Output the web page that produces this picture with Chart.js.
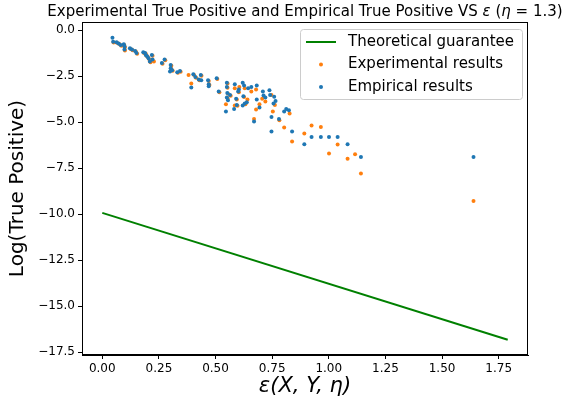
<!DOCTYPE html>
<html>
<head>
<meta charset="utf-8">
<script src="https://cdn.jsdelivr.net/npm/chart.js@4.4.0/dist/chart.umd.min.js"></script>
<style>
  html, body { margin: 0; padding: 0; background: #fff; }
  #wrap { width: 564px; height: 402px; }
</style>
</head>
<body>
<div id="wrap"><canvas id="c" width="564" height="402"></canvas></div>
<script>
const xTicks = [0, 0.25, 0.5, 0.75, 1.0, 1.25, 1.5, 1.75];
const yTicks = [0, -2.5, -5, -7.5, -10, -12.5, -15, -17.5];

const theoryX = [0, 1.79];
const theoryY = [-9.93, -16.83];

const experimental = [
  [0.050,-0.66],[0.065,-0.68],[0.075,-0.74],[0.084,-0.84],[0.097,-0.80],[0.100,-0.92],[0.100,-1.10],
  [0.125,-1.02],[0.134,-1.08],[0.148,-1.16],[0.154,-1.27],[0.184,-1.24],[0.192,-1.28],[0.195,-1.38],
  [0.201,-1.46],[0.207,-1.57],[0.213,-1.74],[0.222,-1.38],[0.228,-1.70],[0.266,-1.82],[0.278,-1.63],
  [0.305,-1.93],[0.305,-2.10],[0.311,-2.20],[0.334,-2.31],[0.346,-2.25],[0.381,-2.43],[0.393,-2.90],
  [0.405,-2.43],[0.414,-2.58],[0.429,-2.72],[0.438,-2.47],[0.470,-2.76],[0.473,-2.97],[0.508,-2.65],
  [0.517,-3.37],[0.553,-2.90],[0.553,-3.12],[0.555,-3.45],[0.553,-3.70],[0.546,-4.02],[0.567,-3.56],
  [0.585,-3.15],[0.605,-3.08],[0.603,-3.37],[0.594,-3.77],[0.585,-4.09],[0.597,-4.10],[0.629,-3.15],
  [0.626,-3.63],[0.632,-4.02],[0.641,-3.77],[0.658,-3.33],[0.679,-3.22],[0.694,-4.02],[0.679,-4.31],
  [0.670,-4.82],[0.706,-3.73],[0.720,-3.88],[0.747,-3.52],[0.762,-4.06],[0.753,-4.42],[0.782,-4.89],
  [0.803,-5.29],[0.827,-4.53],[0.838,-6.05],[0.892,-5.61],[0.924,-5.18],[0.965,-5.26],[1.001,-6.70],
  [1.039,-6.21],[1.083,-6.99],[1.116,-6.74],[1.142,-7.79],[1.639,-9.29]
];

const empirical = [
  [0.045,-0.40],[0.048,-0.62],[0.063,-0.65],[0.072,-0.72],[0.081,-0.80],[0.095,-0.76],[0.098,-0.87],
  [0.098,-1.05],[0.122,-0.98],[0.131,-1.05],[0.145,-1.13],[0.151,-1.23],[0.181,-1.20],[0.189,-1.23],
  [0.192,-1.34],[0.198,-1.41],[0.204,-1.52],[0.210,-1.70],[0.219,-1.34],[0.222,-1.59],[0.263,-1.78],
  [0.275,-1.59],[0.302,-1.89],[0.302,-2.07],[0.299,-2.24],[0.308,-2.17],[0.331,-2.28],[0.343,-2.21],
  [0.393,-3.11],[0.402,-2.39],[0.411,-2.54],[0.426,-2.68],[0.435,-2.43],[0.437,-2.72],[0.467,-2.72],
  [0.470,-2.93],[0.470,-3.04],[0.505,-2.61],[0.514,-3.33],[0.550,-2.86],[0.550,-3.08],[0.552,-3.41],
  [0.550,-3.66],[0.555,-3.80],[0.546,-4.42],[0.564,-3.52],[0.585,-2.93],[0.600,-3.33],[0.603,-3.22],
  [0.591,-3.73],[0.582,-4.28],[0.594,-4.06],[0.620,-2.86],[0.626,-3.01],[0.623,-3.59],[0.620,-4.09],
  [0.629,-3.98],[0.638,-3.91],[0.644,-3.15],[0.658,-3.08],[0.682,-3.01],[0.682,-3.77],[0.694,-4.20],
  [0.670,-4.96],[0.709,-3.33],[0.712,-3.55],[0.720,-3.66],[0.738,-3.26],[0.741,-3.52],[0.759,-3.62],
  [0.765,-3.84],[0.756,-3.98],[0.747,-4.71],[0.780,-4.82],[0.747,-5.51],[0.803,-4.42],[0.812,-4.28],
  [0.824,-4.35],[0.838,-5.51],[0.892,-6.20],[0.924,-5.80],[0.965,-5.80],[1.001,-5.80],[1.039,-5.80],
  [1.083,-6.20],[1.142,-6.89],[1.639,-6.89]
];

const legendLabels = ['Theoretical guarantee', 'Experimental results', 'Empirical results'];
const GREEN = '#008000', ORANGE = '#ff7f0e', BLUE = '#1f77b4';
const FONT = '"DejaVu Sans", sans-serif';

const toPts = arr => arr.map(p => ({x: p[0], y: p[1]}));
const fmtMinus = s => s.replace('-', '\u2212');

const decor = {
  id: 'decor',
  afterDraw(chart) {
    const ctx = chart.ctx, a = chart.chartArea;
    ctx.save();
    // frame (spines)
    ctx.strokeStyle = '#000';
    ctx.lineWidth = 1;
    ctx.strokeRect(Math.round(a.left) + 0.5, Math.round(a.top) + 0.5,
                   Math.round(a.right - a.left) - 1, Math.round(a.bottom - a.top) - 1);

    // title with math segments
    const segs = [
      {t: 'Experimental True Positive and Empirical True Positive VS ', it: false},
      {t: '\u03b5', it: true},
      {t: ' (', it: false},
      {t: '\u03b7', it: true},
      {t: ' = 1.3)', it: false}
    ];
    const tsize = 15;
    let total = 0;
    segs.forEach(s => { ctx.font = (s.it ? 'italic ' : '') + tsize + 'px ' + FONT; s.w = ctx.measureText(s.t).width; total += s.w; });
    let tx = (a.left + a.right) / 2 - total / 2;
    ctx.fillStyle = '#000';
    ctx.textBaseline = 'middle';
    ctx.textAlign = 'left';
    segs.forEach(s => { ctx.font = (s.it ? 'italic ' : '') + tsize + 'px ' + FONT; ctx.fillText(s.t, tx, 12); tx += s.w; });

    // x axis title
    ctx.font = 'italic 21px ' + FONT;
    ctx.textAlign = 'center';
    ctx.fillText('\u03b5(X, Y, \u03b7)', (a.left + a.right) / 2, 387);

    // y axis title
    ctx.save();
    ctx.translate(18, (a.top + a.bottom) / 2);
    ctx.rotate(-Math.PI / 2);
    ctx.font = '20px ' + FONT;
    ctx.fillText('Log(True Positive)', 0, 0);
    ctx.restore();

    // legend
    const lx = 300.5, ly = 29.5, lw = 222, lh = 70, r = 3;
    ctx.beginPath();
    ctx.moveTo(lx + r, ly);
    ctx.lineTo(lx + lw - r, ly); ctx.arcTo(lx + lw, ly, lx + lw, ly + r, r);
    ctx.lineTo(lx + lw, ly + lh - r); ctx.arcTo(lx + lw, ly + lh, lx + lw - r, ly + lh, r);
    ctx.lineTo(lx + r, ly + lh); ctx.arcTo(lx, ly + lh, lx, ly + lh - r, r);
    ctx.lineTo(lx, ly + r); ctx.arcTo(lx, ly, lx + r, ly, r);
    ctx.closePath();
    ctx.fillStyle = 'rgba(255,255,255,0.8)';
    ctx.fill();
    ctx.strokeStyle = '#cccccc';
    ctx.stroke();

    const rows = [42, 64.5, 87];
    ctx.strokeStyle = GREEN; ctx.lineWidth = 2;
    ctx.beginPath(); ctx.moveTo(306, rows[0]); ctx.lineTo(336, rows[0]); ctx.stroke();
    ctx.fillStyle = ORANGE;
    ctx.beginPath(); ctx.arc(321, rows[1], 2, 0, Math.PI * 2); ctx.fill();
    ctx.fillStyle = BLUE;
    ctx.beginPath(); ctx.arc(321, rows[2], 2, 0, Math.PI * 2); ctx.fill();
    ctx.fillStyle = '#000';
    ctx.font = '15px ' + FONT;
    ctx.textAlign = 'left';
    ctx.textBaseline = 'middle';
    legendLabels.forEach((t, i) => ctx.fillText(t, 348, rows[i]));
    ctx.restore();
  }
};

new Chart(document.getElementById('c'), {
  type: 'scatter',
  data: {
    datasets: [
      {label: legendLabels[2], data: toPts(empirical), backgroundColor: BLUE, borderWidth: 0,
       pointRadius: 2, pointHoverRadius: 2, order: 0},
      {label: legendLabels[1], data: toPts(experimental), backgroundColor: ORANGE, borderWidth: 0,
       pointRadius: 2, pointHoverRadius: 2, order: 1},
      {label: legendLabels[0], data: theoryX.map((x, i) => ({x, y: theoryY[i]})), showLine: true,
       borderColor: GREEN, borderWidth: 2, pointRadius: 0, order: 2}
    ]
  },
  options: {
    responsive: false,
    animation: false,
    events: [],
    layout: {padding: {left: 0, right: 36, top: 22, bottom: 0}},
    plugins: {legend: {display: false}, title: {display: false}, tooltip: {enabled: false}},
    scales: {
      x: {
        type: 'linear', min: -0.0895, max: 1.8795,
        afterBuildTicks: s => { s.ticks = xTicks.map(v => ({value: v})); },
        afterFit: s => { s.height = 47; },
        ticks: {color: '#000', font: {family: FONT, size: 12}, padding: 3, autoSkip: false, maxRotation: 0,
                callback: v => fmtMinus(Number(v).toFixed(2))},
        grid: {drawOnChartArea: false, drawTicks: true, tickLength: 4, color: '#000'},
        border: {display: true, color: '#000', width: 1}
      },
      y: {
        type: 'linear', min: -17.66, max: 0.45,
        afterBuildTicks: s => { s.ticks = yTicks.map(v => ({value: v})); },
        afterFit: s => { s.width = 82; },
        ticks: {color: '#000', font: {family: FONT, size: 12}, padding: 3, autoSkip: false,
                callback: v => fmtMinus(Number(v).toFixed(1))},
        grid: {drawOnChartArea: false, drawTicks: true, tickLength: 4, color: '#000'},
        border: {display: true, color: '#000', width: 1}
      }
    }
  },
  plugins: [decor]
});
</script>
</body>
</html>
